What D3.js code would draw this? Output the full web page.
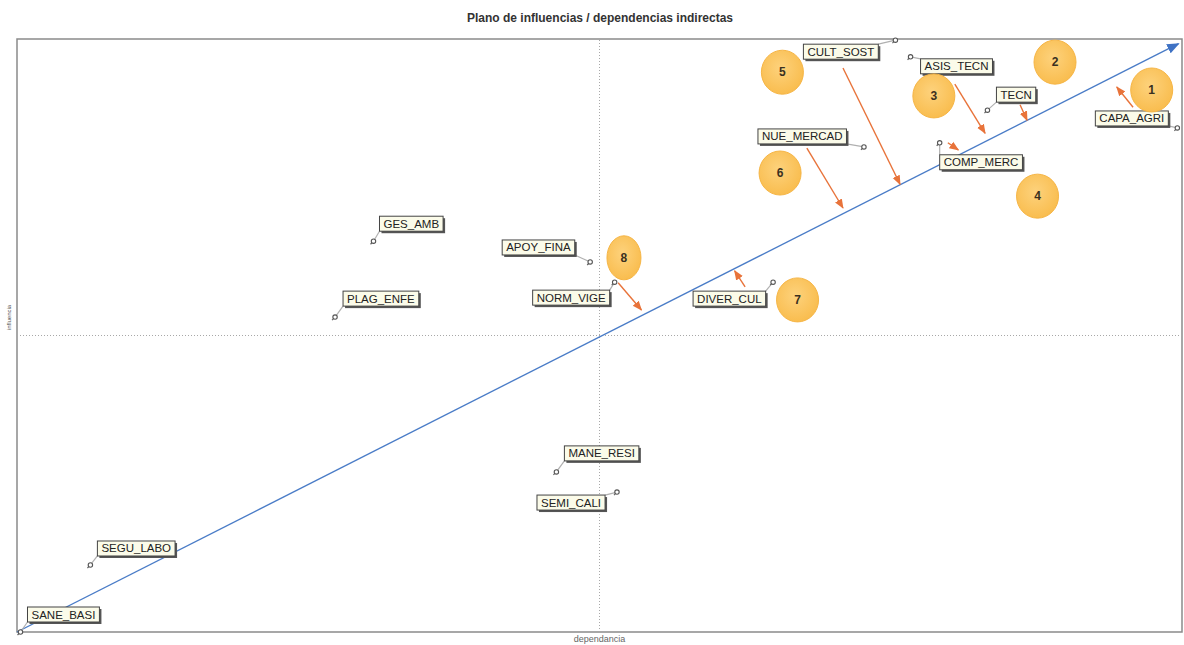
<html>
<head>
<meta charset="utf-8">
<style>
    body { margin: 0; background: #ffffff; font-family: Arial, "Liberation Sans", sans-serif; }
    svg { display: block; }
</style>
</head>
<body>
<svg id="Plano"></svg>
<script src="https://cdnjs.cloudflare.com/ajax/libs/d3/7.8.5/d3.min.js"></script>
<script>
// variables: dependance (x) / influence (y) (0-100 scale)
let names      = ["CULT_SOST","ASIS_TECN","TECN","CAPA_AGRI","NUE_MERCAD","COMP_MERC","GES_AMB","PLAG_ENFE",
                  "APOY_FINA","NORM_VIGE","DIVER_CUL","MANE_RESI","SEMI_CALI","SEGU_LABO","SANE_BASI"];
let dependance = [75.4, 76.7, 83.3, 99.6, 72.7, 79.2, 30.6, 27.3, 49.2, 51.3, 64.9, 46.3, 51.5, 6.3, 0.3];
let influence  = [99.8, 97.0, 88.0, 85.0, 81.8, 82.5, 65.9, 53.1, 62.4, 59.0, 59.0, 27.0, 23.6, 11.3, 0.0];

// numbered annotation bubbles
let bubbleNums = ["1","2","3","4","5","6","7","8"];
let bubbleX    = [97.4, 89.1, 78.7, 87.6, 65.7, 65.5, 67.0, 52.1];
let bubbleY    = [91.4, 96.1, 90.4, 73.5, 94.4, 77.4, 56.0, 63.1];

// orange arrows (from -> to)
let arrowX1 = [70.9, 80.5, 86.1, 95.8, 79.9, 67.8, 51.6, 62.5];
let arrowY1 = [95.1, 92.4, 88.9, 88.5, 82.5, 81.6, 58.9, 58.2];
let arrowX2 = [75.8, 83.1, 86.7, 94.4, 80.8, 70.9, 53.6, 61.6];
let arrowY2 = [75.5, 84.1, 86.3, 91.9, 81.3, 71.5, 54.3, 60.9];

// diagonal
let diagX = [0, 99.7];
let diagY = [0, 99.2];

let width = 1184, height = 645;
let margin = {top: 39, right: 2, bottom: 13, left: 17};

let svg = d3.select("#Plano").attr("width", width).attr("height", height);

let xScale = d3.scaleLinear().domain([0, 100]).range([margin.left, width - margin.right]);
let yScale = d3.scaleLinear().domain([0, 100]).range([height - margin.bottom, margin.top]);

let defs = svg.append("defs");
defs.append("marker").attr("id", "blueHead")
    .attr("viewBox", "0 0 10 10").attr("refX", 9).attr("refY", 5)
    .attr("markerWidth", 9).attr("markerHeight", 9).attr("orient", "auto")
    .append("path").attr("d", "M0,1 L10,5 L0,9 Z").attr("fill", "#3f72c4");
defs.append("marker").attr("id", "orangeHead")
    .attr("viewBox", "0 0 10 10").attr("refX", 9).attr("refY", 5)
    .attr("markerWidth", 7).attr("markerHeight", 7).attr("orient", "auto")
    .append("path").attr("d", "M0,1 L10,5 L0,9 Z").attr("fill", "#e8733a");
let grad = defs.append("radialGradient").attr("id", "bubbleFill").attr("cx", "45%").attr("cy", "40%").attr("r", "60%");
grad.append("stop").attr("offset", "0%").attr("stop-color", "#fdd27c");
grad.append("stop").attr("offset", "100%").attr("stop-color", "#f9bd4f");
let shadow = defs.append("filter").attr("id", "blur").attr("x", "-20%").attr("y", "-20%").attr("width", "140%").attr("height", "140%");
shadow.append("feGaussianBlur").attr("stdDeviation", 0.6);

// title
svg.append("text")
    .attr("x", 600).attr("y", 22)
    .attr("text-anchor", "middle")
    .style("font-size", "12px").style("font-weight", "bold").style("fill", "#333")
    .text("Plano de influencias / dependencias indirectas");

// frame
svg.append("rect")
    .attr("x", xScale(0)).attr("y", yScale(100))
    .attr("width", xScale(100) - xScale(0)).attr("height", yScale(0) - yScale(100))
    .attr("fill", "none").attr("stroke", "#8a8a8a").attr("stroke-width", 1.5);

// crosshair
svg.append("line")
    .attr("x1", xScale(50)).attr("x2", xScale(50))
    .attr("y1", yScale(0)).attr("y2", yScale(100))
    .attr("stroke", "#a8a8a8").attr("stroke-dasharray", "1,2");
svg.append("line")
    .attr("x1", xScale(0)).attr("x2", xScale(100))
    .attr("y1", yScale(50)).attr("y2", yScale(50))
    .attr("stroke", "#a8a8a8").attr("stroke-dasharray", "1,2");

// axis titles
svg.append("text")
    .attr("x", xScale(50)).attr("y", 642)
    .attr("text-anchor", "middle")
    .style("font-size", "9px").style("fill", "#666")
    .text("dependancia");
svg.append("text")
    .attr("transform", `translate(11, ${yScale(50) - 18}) rotate(-90)`)
    .attr("text-anchor", "middle")
    .style("font-size", "6px").style("fill", "#555")
    .text("influencia");

// diagonal
svg.append("line")
    .attr("x1", xScale(diagX[0])).attr("y1", yScale(diagY[0]))
    .attr("x2", xScale(diagX[1])).attr("y2", yScale(diagY[1]))
    .attr("stroke", "#4a7cc7").attr("stroke-width", 1.4)
    .attr("marker-end", "url(#blueHead)");

// label box offsets relative to each point (layout only)
let labelOffset = {
    "CULT_SOST": [-92, 4], "ASIS_TECN": [10, 2], "TECN": [9, -23], "CAPA_AGRI": [-82, -17],
    "NUE_MERCAD": [-106, -18], "COMP_MERC": [0, 12], "GES_AMB": [6, -25], "PLAG_ENFE": [8, -26],
    "APOY_FINA": [-88, -22], "NORM_VIGE": [-82, 8], "DIVER_CUL": [-80, 9], "MANE_RESI": [8, -26],
    "SEMI_CALI": [-80, 3], "SEGU_LABO": [7, -24], "SANE_BASI": [7, -25]
};

let points = names.map((n, i) => ({name: n, x: dependance[i], y: influence[i]}));

let g = svg.append("g");
points.forEach(p => {
    let px = xScale(p.x), py = yScale(p.y);
    let [dx, dy] = labelOffset[p.name];
    let node = g.append("g");
    let txt = node.append("text")
        .attr("x", px + dx + 4).attr("y", py + dy + 11.5)
        .style("font-size", "11.5px").style("fill", "#222")
        .text(p.name);
    let w = txt.node().getComputedTextLength() + 8;
    let h = 15;
    let bx = px + dx, by = py + dy;
    // connector to nearest corner of the box
    let cx = Math.max(bx, Math.min(px, bx + w));
    let cy = Math.max(by, Math.min(py, by + h));
    node.insert("line", "text")
        .attr("x1", px).attr("y1", py).attr("x2", cx).attr("y2", cy)
        .attr("stroke", "#b0b0b0").attr("stroke-width", 1.2);
    node.insert("rect", "text")
        .attr("x", bx + 2).attr("y", by + 2).attr("width", w).attr("height", h)
        .attr("fill", "#555").attr("filter", "url(#blur)");
    node.insert("rect", "text")
        .attr("x", bx).attr("y", by).attr("width", w).attr("height", h)
        .attr("fill", "#fbfbe9").attr("stroke", "#444").attr("stroke-width", 1);
    // point marker
    node.append("line")
        .attr("x1", px).attr("y1", py).attr("x2", px - 3).attr("y2", py + 3)
        .attr("stroke", "#666").attr("stroke-width", 1.2);
    node.append("circle")
        .attr("cx", px).attr("cy", py).attr("r", 2.2)
        .attr("fill", "#fff").attr("stroke", "#555").attr("stroke-width", 1.1);
});

// orange arrows
svg.append("g").selectAll("line")
    .data(arrowX1.map((v, i) => ({x1: v, y1: arrowY1[i], x2: arrowX2[i], y2: arrowY2[i]})))
    .join("line")
    .attr("x1", d => xScale(d.x1)).attr("y1", d => yScale(d.y1))
    .attr("x2", d => xScale(d.x2)).attr("y2", d => yScale(d.y2))
    .attr("stroke", "#e8733a").attr("stroke-width", 1.4)
    .attr("marker-end", "url(#orangeHead)");

// numbered bubbles
let bubbles = svg.append("g").selectAll("g")
    .data(bubbleNums.map((n, i) => ({n: n, x: bubbleX[i], y: bubbleY[i]})))
    .join("g")
    .attr("transform", d => `translate(${xScale(d.x)},${yScale(d.y)})`);
bubbles.append("ellipse")
    .attr("rx", d => d.n === "8" ? 17 : 21)
    .attr("ry", 22)
    .attr("fill", "url(#bubbleFill)").attr("stroke", "#f6b545").attr("stroke-width", 1);
bubbles.append("text")
    .attr("text-anchor", "middle").attr("dy", "0.35em")
    .style("font-size", "12px").style("font-weight", "bold").style("fill", "#3a3020")
    .text(d => d.n);
</script>
</body>
</html>
